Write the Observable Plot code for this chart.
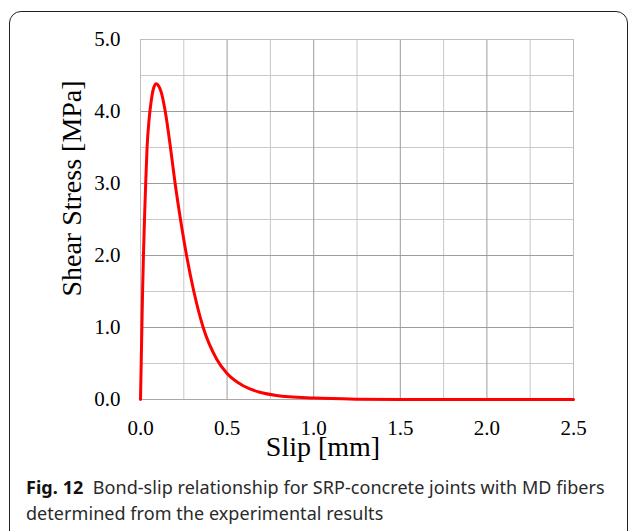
<!DOCTYPE html>
<html>
<head>
<meta charset="utf-8">
<script src="https://cdn.jsdelivr.net/npm/d3@7"></script>
<script src="https://cdn.jsdelivr.net/npm/@observablehq/plot@0.6"></script>
<style>
  html, body { margin: 0; padding: 0; background: #fff; width: 629px; height: 531px; overflow: hidden; }
  #frame { position: absolute; left: 9px; top: 11px; width: 619px; height: 540px;
           border: 1.5px solid #222; border-radius: 12px; box-sizing: border-box; }
  #chart { position: absolute; left: 0; top: 0; }
  #caption { position: absolute; left: 26px; top: 474px; width: 600px;
             font-family: "Noto Sans", sans-serif; font-size: 18px; letter-spacing: 0.05px; line-height: 26px; color: #2a2a2a; }
  #caption b { color: #111; font-weight: 700; }
</style>
</head>
<body>
<div id="frame"></div>
<div id="chart"></div>
<div id="caption"><b>Fig. 12</b>&nbsp; Bond-slip relationship for SRP-concrete joints with MD fibers determined from the experimental results</div>
<script>
// Slip [mm]
const slip   = [0.000, 0.004, 0.008, 0.012, 0.017, 0.023, 0.030, 0.038, 0.050, 0.062, 0.075, 0.0906, 0.105, 0.120, 0.143, 0.173, 0.200, 0.231, 0.266, 0.308, 0.362, 0.440, 0.500, 0.593, 0.689, 0.785, 1.000, 1.250, 1.500, 2.000, 2.500];
// Shear stress [MPa]
const stress = [0.00, 0.50, 1.00, 1.50, 2.00, 2.50, 3.00, 3.50, 3.90, 4.15, 4.32, 4.385, 4.355, 4.265, 4.00, 3.50, 3.00, 2.50, 2.00, 1.50, 1.00, 0.56, 0.36, 0.19, 0.10, 0.056, 0.02, 0.005, 0.001, 0.000, 0.000];

const xTicks = [0, 0.5, 1.0, 1.5, 2.0, 2.5];
const yTicks = [0, 1, 2, 3, 4, 5];
const xMinor = [0.25, 0.75, 1.25, 1.75, 2.25];
const yMinor = [0.5, 1.5, 2.5, 3.5, 4.5];

const data = slip.map((s, i) => ({slip: s, stress: stress[i]}));

const chart = Plot.plot({
  width: 629,
  height: 470,
  marginLeft: 140,
  marginRight: 56,
  marginTop: 39,
  marginBottom: 71,
  style: {fontFamily: "'Liberation Serif', 'Times New Roman', serif", fontSize: "21px", color: "#000", background: "transparent"},
  x: {domain: [0, 2.5]},
  y: {domain: [0, 5]},
  marks: [
    Plot.gridX(xMinor, {stroke: "#c8c8c8", strokeOpacity: 1, strokeWidth: 1}),
    Plot.gridY(yMinor, {stroke: "#c8c8c8", strokeOpacity: 1, strokeWidth: 1}),
    Plot.gridX(xTicks, {stroke: "#9c9c9c", strokeOpacity: 1, strokeWidth: 1}),
    Plot.gridY(yTicks, {stroke: "#9c9c9c", strokeOpacity: 1, strokeWidth: 1}),
    Plot.ruleX([0, 2.5], {stroke: "#bdbdbd", strokeWidth: 1}),
    Plot.ruleY([5], {stroke: "#bdbdbd", strokeWidth: 1}),
    Plot.ruleY([0], {stroke: "#a8a8a8", strokeWidth: 1.2}),
    Plot.axisX(xTicks, {tickSize: 0, tickPadding: 21, tickFormat: d => d.toFixed(1), label: null, fontSize: 21}),
    Plot.axisY(yTicks, {tickSize: 0, tickPadding: 20, tickFormat: d => d.toFixed(1), label: null, fontSize: 21}),
    Plot.line(data, {x: "slip", y: "stress", stroke: "#ff0000", strokeWidth: 3, curve: "monotone-x"}),
    Plot.text(["Slip [mm]"], {frameAnchor: "bottom", textAnchor: "middle", dx: -34, dy: 56, fontSize: 28, fill: "#000"}),
    Plot.text(["Shear Stress [MPa]"], {frameAnchor: "left", textAnchor: "middle", rotate: -90, dx: -68, dy: -31, fontSize: 28, fill: "#000"})
  ]
});
document.getElementById("chart").appendChild(chart);
</script>
</body>
</html>
